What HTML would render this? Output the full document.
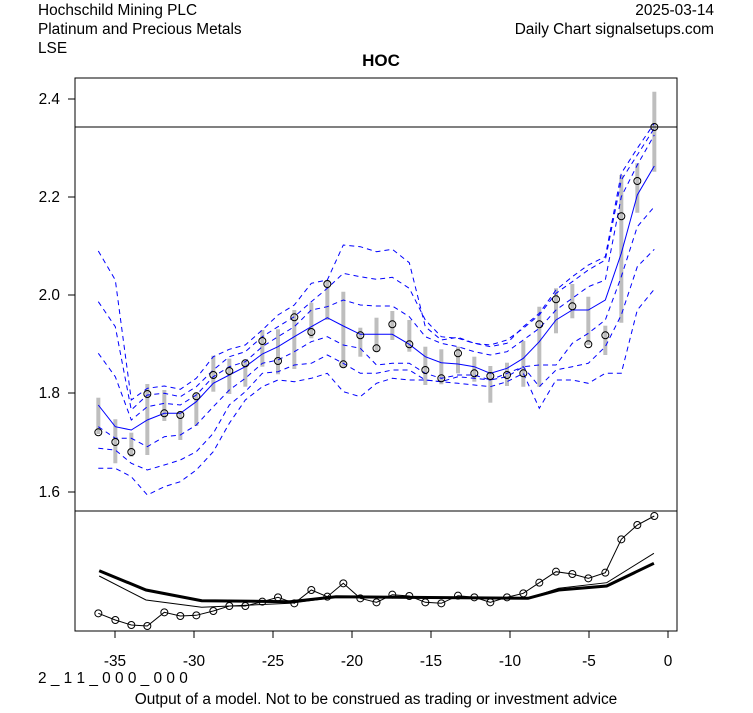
<!DOCTYPE html>
<html><head><meta charset="utf-8"><style>
body{margin:0;background:#fff;width:753px;height:708px;overflow:hidden}
text{font-family:"Liberation Sans",Arial,sans-serif}
</style></head><body>
<svg id="s" width="753" height="708" xmlns="http://www.w3.org/2000/svg">
<rect width="753" height="708" fill="#fff"/>
<g font-size="15.4" fill="#000">
<text x="38" y="15">Hochschild Mining PLC</text>
<text x="38" y="34">Platinum and Precious Metals</text>
<text x="38" y="53">LSE</text>
<text x="714" y="15" text-anchor="end">2025-03-14</text>
<text x="714" y="34" text-anchor="end">Daily Chart signalsetups.com</text>
<text x="381" y="66" text-anchor="middle" font-weight="bold" font-size="17">HOC</text>
<text x="38" y="683">2 _ 1 1 _ 0 0 0 _ 0 0 0</text>
<text x="376" y="704" text-anchor="middle">Output of a model. Not to be construed as trading or investment advice</text>
</g>
<g id="plot"></g>
<rect x="75" y="78" width="602" height="553" fill="none" stroke="#000"/>
<line x1="75" y1="511" x2="677" y2="511" stroke="#000"/>
<line x1="75" y1="127" x2="677" y2="127" stroke="#000"/>
<g stroke="#000">
<line x1="68" y1="99" x2="75" y2="99"/><line x1="68" y1="197" x2="75" y2="197"/><line x1="68" y1="295" x2="75" y2="295"/><line x1="68" y1="393" x2="75" y2="393"/><line x1="68" y1="492" x2="75" y2="492"/>
<line x1="115" y1="631" x2="115" y2="638"/><line x1="194" y1="631" x2="194" y2="638"/><line x1="273" y1="631" x2="273" y2="638"/><line x1="352" y1="631" x2="352" y2="638"/><line x1="431" y1="631" x2="431" y2="638"/><line x1="510" y1="631" x2="510" y2="638"/><line x1="589" y1="631" x2="589" y2="638"/><line x1="668" y1="631" x2="668" y2="638"/>
</g>
<g font-size="15.4" text-anchor="end">
<text x="60" y="104">2.4</text><text x="60" y="202">2.2</text><text x="60" y="300">2.0</text><text x="60" y="398">1.8</text><text x="60" y="497">1.6</text>
</g>
<g font-size="15.4" text-anchor="middle">
<text x="115" y="666">-35</text><text x="194" y="666">-30</text><text x="273" y="666">-25</text><text x="352" y="666">-20</text><text x="431" y="666">-15</text><text x="510" y="666">-10</text><text x="589" y="666">-5</text><text x="668" y="666">0</text>
</g>
</svg>
<script>
var g=document.getElementById('plot'),h='';
var X1=[70,121,169,217,268,316,364,415,463,511,562,609,658,709,757,805,856];
var X2=[905,67,118,166,214,264,313,361,411,460,508,558,607,655,706,754,802,853];
var xs=[];X1.forEach(function(v){xs.push(v/3+75)});xs.push(376.5);X2.slice(1).forEach(function(v){xs.push(v/3+370)});
function y1(a){return a.map(function(v){return v/3+230})}
function y2(a){return a.map(function(v){return v/3+80})}
function comb(a,b){return y1(a).concat(y2(b))}
var C=comb([525,590,600,570,550,550,515,460,435,410,372,350,320,290,263,288,313],[763,763,793,830,848,852,860,880,865,835,785,720,690,690,660,520,345,258]);
var U3=comb([63,150,510,475,468,478,445,380,358,345,300,255,225,160,150,45,50],[515,508,548,740,780,772,790,800,790,740,700,630,590,555,530,280,205,130]);
var U2=comb([215,290,540,495,490,500,470,420,380,365,320,290,260,215,175,130,140],[598,592,625,720,770,775,790,795,780,745,705,640,605,570,540,300,225,145]);
var U1=comb([370,440,570,530,520,525,495,440,410,395,350,320,290,240,230,210,225],[678,678,710,770,790,800,815,825,815,780,745,690,655,620,600,350,255,165]);
var L1=comb([590,625,625,650,620,615,585,530,480,445,400,390,365,335,320,345,355],[855,850,850,880,895,885,885,900,890,860,855,855,790,760,720,590,440,380]);
var L2=comb([655,660,700,720,705,690,665,610,525,485,430,425,405,400,375,400,430],[880,870,870,900,905,890,895,900,880,860,920,870,860,850,800,705,560,508]);
var L3=comb([715,715,740,795,770,755,720,665,580,510,470,450,455,445,430,485,500],[910,895,900,900,905,910,915,920,905,880,985,900,900,910,880,880,690,628]);
var HI=[397.7,419.3,432.7,384,390,411,392.3,355.7,358.7,360.7,330,329.3,310,302.7,280,291.7,327.7,311,320,346.7,349.3,346.7,356.7,366,362.7,341,306.7,288.3,284,296.7,325.7,175,163.3,91.7];
var LO=[434,463.3,456.7,455,421,440,426,391.7,394,386.7,366.7,374.3,369,338.3,320,367.3,356.7,351.7,340,351.7,385,384.3,373.3,381.7,402.7,386,386.7,386.7,333.3,318.3,345,355,322.7,212.7,171.7];
var CL=[432.3,442,452,394,413.3,415,396.3,375,371,363.3,341,361,317.3,332,284,364.3,335.3,348.3,324.3,344.3,370,378.3,353.3,373.3,376,375,373.3,324.3,299.3,306.3,344.3,335.3,216.3,181,127];
HI.splice(17,0,317.7);
var n=xs.length;
function pl(a,st){var p='';for(var i=0;i<n;i++)p+=(i?' ':'')+xs[i].toFixed(1)+','+a[i].toFixed(1);return '<polyline points="'+p+'" fill="none" '+st+'/>'}
for(var i=0;i<n;i++)h+='<line x1="'+xs[i]+'" y1="'+HI[i]+'" x2="'+xs[i]+'" y2="'+LO[i]+'" stroke="#bebebe" stroke-width="4"/>';
var ds='stroke="#0000ff" stroke-width="1" stroke-dasharray="5,4"';
[U3,U2,U1,L1,L2,L3].forEach(function(a){h+=pl(a,ds)});
h+=pl(C,'stroke="#0000ff" stroke-width="1"');
for(var i=0;i<n;i++)h+='<circle cx="'+xs[i]+'" cy="'+CL[i]+'" r="3.5" fill="none" stroke="#000"/>';
var s=2.605;
function bx(v){return v/s+75}function by(v){return v/3+510}
var cy=[310,330,345,348,307,318,316,303,288,288,275,262,280,240,260,220,265,277,254,258,277,280,257,262,277,262,250,218,185,192,205,188,88,45,18];
var p='';for(var i=0;i<n;i++)p+=xs[i].toFixed(1)+','+by(cy[i]).toFixed(1)+' ';
h+='<polyline points="'+p+'" fill="none" stroke="#000" stroke-width="1"/>';
for(var i=0;i<n;i++)h+='<circle cx="'+xs[i]+'" cy="'+by(cy[i])+'" r="3.5" fill="none" stroke="#000"/>';
function pp(a){return a.map(function(q){return bx(q[0]).toFixed(1)+','+by(q[1]).toFixed(1)}).join(' ')}
h+='<polyline points="'+pp([[63,182],[185,240],[330,272],[560,275],[680,260],[1180,265],[1260,240],[1385,228],[1508,160]])+'" fill="none" stroke="#000" stroke-width="3"/>';
h+='<polyline points="'+pp([[63,198],[185,270],[330,292],[560,280],[680,262],[1180,265],[1260,235],[1385,218],[1508,130]])+'" fill="none" stroke="#000" stroke-width="1"/>';
g.innerHTML=h;
</script>
</body></html>
